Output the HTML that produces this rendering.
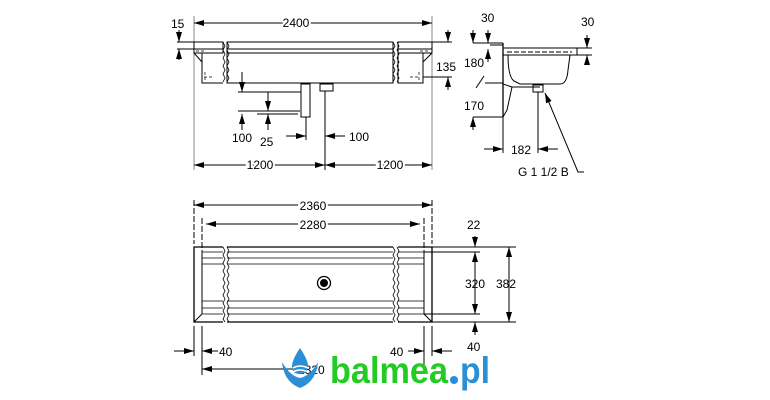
<!DOCTYPE html>
<html><head><meta charset="utf-8"><style>
html,body{margin:0;padding:0;background:#fff;}
svg{display:block;}
text{font-family:"Liberation Sans",Arial,sans-serif;font-size:12px;fill:#000;}
</style></head><body>
<svg width="770" height="400" viewBox="0 0 770 400" xmlns="http://www.w3.org/2000/svg">
<defs>
<marker id="a" viewBox="0 0 10 6" refX="10" refY="3" markerWidth="10" markerHeight="6" orient="auto-start-reverse" markerUnits="userSpaceOnUse"><path d="M0,0 L10,3 L0,6z" fill="#000"/></marker>
</defs>
<g stroke="#000" stroke-width="1" fill="none">
<!-- TOP VIEW -->
<line x1="194" y1="16" x2="194" y2="170" stroke="#888"/>
<line x1="432" y1="16" x2="432" y2="170" stroke="#888"/>
<line x1="194" y1="23" x2="432" y2="23" marker-start="url(#a)" marker-end="url(#a)"/>
<rect x="194" y="42" width="29" height="11"/><rect x="227" y="42" width="166" height="11"/><rect x="398" y="42" width="34" height="11"/>
<line x1="194" y1="49" x2="223" y2="49"/><line x1="227" y1="49" x2="393" y2="49"/><line x1="398" y1="49" x2="432" y2="49"/>
<path d="M202 53 V83 H223 M227 53 V83 H393 V53 M398 53 V83 H423 V53"/>
<path d="M194 53 L202 62 M432 53 L423 62"/>
<path d="M196 51 H206 M420 51 H430 M204 77 H214 M410 77 H420 M205 72 V82 M419 72 V82" stroke-width="0.7" stroke-dasharray="3,2"/>
<path d="M223 42 l2 4 -2 4 2 4 -2 4 2 4 -2 4 2 4 -2 4 2 4 -2 4 M227 42 l2 4 -2 4 2 4 -2 4 2 4 -2 4 2 4 -2 4 2 4 -2 4 M393 42 l2 4 -2 4 2 4 -2 4 2 4 -2 4 2 4 -2 4 2 4 -2 4 M397 42 l2 4 -2 4 2 4 -2 4 2 4 -2 4 2 4 -2 4 2 4 -2 4" stroke-width="0.8"/>
<rect x="301" y="84" width="9" height="33"/>
<rect x="320" y="84" width="13" height="7"/>
<line x1="177" y1="49" x2="194" y2="49"/><line x1="177" y1="42" x2="194" y2="42"/>
<line x1="179" y1="30" x2="179" y2="42" marker-end="url(#a)"/><line x1="179" y1="60" x2="179" y2="49" marker-end="url(#a)"/>
<line x1="432" y1="42" x2="452" y2="42"/><line x1="423" y1="77" x2="452" y2="77"/>
<line x1="448" y1="30" x2="448" y2="42" marker-end="url(#a)"/><line x1="448" y1="90" x2="448" y2="77" marker-end="url(#a)"/>
<line x1="238" y1="92" x2="301" y2="92"/><line x1="238" y1="111" x2="300" y2="111"/><line x1="257" y1="114" x2="298" y2="114"/>
<line x1="242" y1="72" x2="242" y2="92" marker-end="url(#a)"/><line x1="242" y1="130" x2="242" y2="114" marker-end="url(#a)"/>
<line x1="268" y1="92" x2="268" y2="111" marker-end="url(#a)"/><line x1="268" y1="130" x2="268" y2="114" marker-end="url(#a)"/>
<line x1="306" y1="117" x2="306" y2="140"/><line x1="325" y1="91" x2="325" y2="170"/>
<line x1="286" y1="136" x2="306" y2="136" marker-end="url(#a)"/><line x1="345" y1="136" x2="325" y2="136" marker-end="url(#a)"/>
<line x1="194" y1="165" x2="325" y2="165" marker-start="url(#a)" marker-end="url(#a)"/>
<line x1="325" y1="165" x2="432" y2="165" marker-start="url(#a)" marker-end="url(#a)"/>
<!-- SIDE VIEW -->
<line x1="503" y1="43" x2="503" y2="117" stroke-width="1.3"/>
<rect x="503" y="48" width="74" height="7"/>
<path d="M507 52 H572" stroke-dasharray="5,2"/>
<path d="M508 55 Q508 80 516 82 L520 84 H560 Q567 84 568 70 L570 55"/>
<path d="M503 84 L512 87 L507 110 L503 117 M512 87 H540"/>
<rect x="533" y="85" width="10" height="7"/>
<line x1="485" y1="83" x2="503" y2="83"/><line x1="484" y1="76" x2="476" y2="88"/>
<line x1="473" y1="43" x2="503" y2="43"/><line x1="490" y1="45" x2="503" y2="45"/>
<line x1="473" y1="117" x2="503" y2="117"/>
<line x1="473" y1="30" x2="473" y2="43" marker-end="url(#a)"/><line x1="473" y1="130" x2="473" y2="117" marker-end="url(#a)"/>
<line x1="488" y1="30" x2="488" y2="43" marker-end="url(#a)"/><line x1="488" y1="62" x2="488" y2="49" marker-end="url(#a)"/>
<line x1="577" y1="48" x2="592" y2="48"/><line x1="577" y1="55" x2="592" y2="55"/>
<line x1="587" y1="35" x2="587" y2="48" marker-end="url(#a)"/><line x1="587" y1="65" x2="587" y2="55" marker-end="url(#a)"/>
<line x1="503" y1="117" x2="503" y2="153"/><line x1="538" y1="92" x2="538" y2="153"/>
<line x1="484" y1="149" x2="503" y2="149" marker-end="url(#a)"/><line x1="558" y1="149" x2="538" y2="149" marker-end="url(#a)"/>
<path d="M584 172 H578 L545 93" marker-end="url(#a)"/>
<!-- BOTTOM VIEW -->
<line x1="194" y1="200" x2="194" y2="244" stroke-dasharray="6,2"/><line x1="432" y1="200" x2="432" y2="244" stroke-dasharray="6,2"/>
<line x1="202" y1="218" x2="202" y2="256" stroke-dasharray="6,2"/><line x1="424" y1="218" x2="424" y2="256" stroke-dasharray="6,2"/>
<line x1="194" y1="205" x2="432" y2="205" marker-start="url(#a)" marker-end="url(#a)"/>
<line x1="206" y1="224" x2="420" y2="224" marker-start="url(#a)" marker-end="url(#a)"/>
<path d="M223 247 H194 V322 H223 M227 247 H393 M227 322 H393 M398 247 H432 V322 H398" stroke-width="1.3"/>
<path d="M202 252 V314 M424 252 V314 M194 322 L202 314 M432 322 L424 314"/>
<path d="M202 252 H223 M227 252 H393 M398 252 H424 M202 258 H223 M227 258 H393 M398 258 H424 M202 264 H223 M227 264 H393 M398 264 H424 M202 301 H223 M227 301 H393 M398 301 H424 M202 308 H223 M227 308 H393 M398 308 H424 M202 314 H223 M227 314 H393 M398 314 H424" stroke-width="0.8"/>
<path d="M223 247 l2 4 -2 4 2 4 -2 4 2 4 -2 4 2 4 -2 4 2 4 -2 4 2 4 -2 4 2 4 -2 4 2 4 -2 4 2 4 -2 4 2 3 M227 247 l2 4 -2 4 2 4 -2 4 2 4 -2 4 2 4 -2 4 2 4 -2 4 2 4 -2 4 2 4 -2 4 2 4 -2 4 2 4 -2 4 2 3 M393 247 l2 4 -2 4 2 4 -2 4 2 4 -2 4 2 4 -2 4 2 4 -2 4 2 4 -2 4 2 4 -2 4 2 4 -2 4 2 4 -2 4 2 3 M397 247 l2 4 -2 4 2 4 -2 4 2 4 -2 4 2 4 -2 4 2 4 -2 4 2 4 -2 4 2 4 -2 4 2 4 -2 4 2 4 -2 4 2 3" stroke-width="0.8"/>
<circle cx="324" cy="283" r="6.5" stroke-width="1.3"/><circle cx="324" cy="283" r="3.5" fill="#000"/>
<line x1="432" y1="247" x2="516" y2="247"/><line x1="432" y1="322" x2="516" y2="322"/>
<line x1="424" y1="252" x2="480" y2="252"/><line x1="424" y1="314" x2="480" y2="314"/>
<line x1="509" y1="247" x2="509" y2="322" marker-start="url(#a)" marker-end="url(#a)"/>
<line x1="475" y1="252" x2="475" y2="314" marker-start="url(#a)" marker-end="url(#a)"/>
<line x1="475" y1="236" x2="475" y2="247" marker-end="url(#a)"/>
<line x1="475" y1="335" x2="475" y2="322" marker-end="url(#a)"/>
<line x1="194" y1="326" x2="194" y2="356"/><line x1="202" y1="326" x2="202" y2="375"/>
<line x1="424" y1="326" x2="424" y2="370"/><line x1="432" y1="326" x2="432" y2="356"/>
<line x1="174" y1="351" x2="194" y2="351" marker-end="url(#a)"/><line x1="218" y1="351" x2="202" y2="351" marker-end="url(#a)"/>
<line x1="408" y1="351" x2="424" y2="351" marker-end="url(#a)"/><line x1="452" y1="351" x2="432" y2="351" marker-end="url(#a)"/>
<line x1="202" y1="369" x2="300" y2="369" marker-start="url(#a)"/>
</g>
<text x="171" y="28">15</text>
<text x="296" y="27" text-anchor="middle" style="paint-order:stroke;stroke:#fff;stroke-width:4px">2400</text>
<text x="436" y="71">135</text>
<text x="232" y="142">100</text>
<text x="260" y="146">25</text>
<text x="349" y="141">100</text>
<text x="260" y="169" text-anchor="middle" style="paint-order:stroke;stroke:#fff;stroke-width:4px">1200</text>
<text x="390" y="169" text-anchor="middle" style="paint-order:stroke;stroke:#fff;stroke-width:4px">1200</text>
<text x="481" y="22">30</text>
<text x="464" y="67">180</text>
<text x="464" y="110">170</text>
<text x="581" y="26">30</text>
<text x="511" y="154">182</text>
<text x="518" y="176">G 1 1/2 B</text>
<text x="313" y="210" text-anchor="middle" style="paint-order:stroke;stroke:#fff;stroke-width:4px">2360</text>
<text x="313" y="229" text-anchor="middle" style="paint-order:stroke;stroke:#fff;stroke-width:4px">2280</text>
<text x="467" y="229">22</text>
<text x="465" y="288">320</text>
<text x="496" y="288">382</text>
<text x="219" y="356">40</text>
<text x="390" y="356">40</text>
<text x="467" y="351">40</text>
<text x="298" y="374">2320</text>
<!-- logo -->
<g>
<path d="M300 348 Q292 360 292 366 Q292 374 300 374 Q308 374 308 366 Q308 360 300 348z" fill="#2a8fd6"/>
<path d="M282 362 Q284 382 300 388 Q316 382 318 362 Q310 376 300 378 Q290 376 282 362z" fill="#2a8fd6"/>
<path d="M293 368 Q300 364 308 368 M293 372 Q300 368 308 372" stroke="#fff" stroke-width="1.5" fill="none"/>
</g>
<text x="330" y="383" textLength="118" lengthAdjust="spacingAndGlyphs" style="font-size:37px;font-weight:bold;fill:#22cc22">balmea</text>
<circle cx="454" cy="380" r="4" fill="#2a8fd6"/>
<text x="460" y="383" textLength="30" lengthAdjust="spacingAndGlyphs" style="font-size:37px;font-weight:bold;fill:#2a8fd6">pl</text>
</svg>
</body></html>
